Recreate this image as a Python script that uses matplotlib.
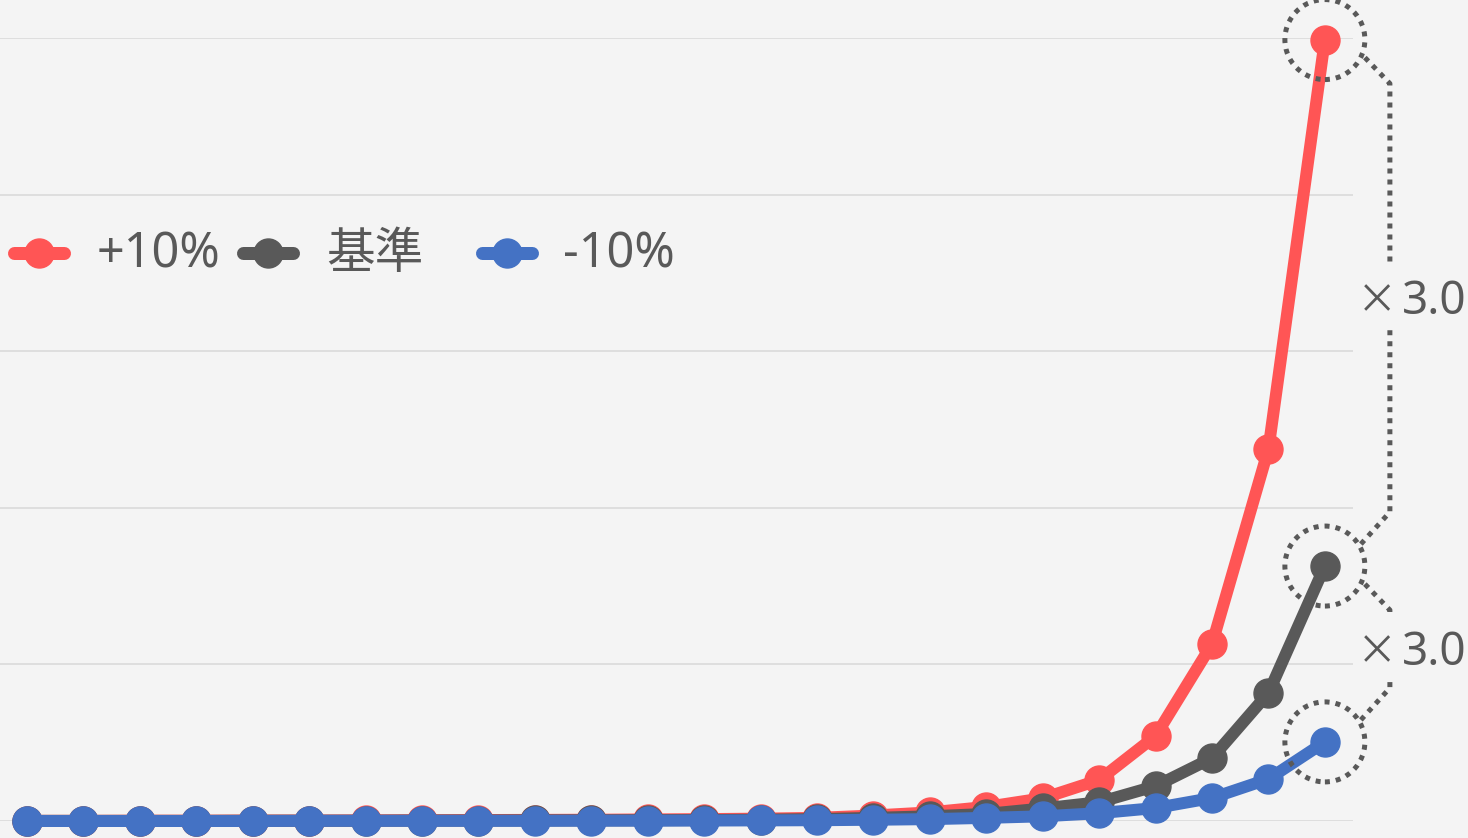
import matplotlib
matplotlib.use("Agg")
import matplotlib.pyplot as plt
from matplotlib.lines import Line2D
from matplotlib.patches import Circle
from matplotlib.transforms import IdentityTransform

# ---- data -------------------------------------------------------------
steps = list(range(24))
series_names = ["+10%", "基準", "-10%"]
plus10 = [0.001, 0.001, 0.002, 0.002, 0.003, 0.003, 0.004, 0.005, 0.006, 0.007,
          0.008, 0.010, 0.012, 0.015, 0.020, 0.035, 0.055, 0.090, 0.145, 0.262,
          0.543, 1.130, 2.375, 4.990]
base = [0.001, 0.001, 0.001, 0.001, 0.002, 0.002, 0.002, 0.003, 0.003, 0.004,
        0.004, 0.005, 0.006, 0.008, 0.012, 0.020, 0.030, 0.045, 0.080, 0.120,
        0.223, 0.402, 0.817, 1.628]
minus10 = [0.000, 0.000, 0.000, 0.000, 0.000, 0.001, 0.001, 0.001, 0.001, 0.001,
           0.002, 0.002, 0.003, 0.004, 0.005, 0.008, 0.012, 0.020, 0.030, 0.050,
           0.083, 0.147, 0.268, 0.505]
ratio_values = [3.0, 3.0]

colors = ["#ff5555", "#595959", "#4472c4"]
TEXT = "#595959"
BG = "#f4f4f4"
GRID = "#dedede"

# ---- figure -----------------------------------------------------------
W, H, DPI = 1468, 838, 100
PT = 72 / DPI  # points per pixel
plt.rcParams["font.family"] = ["Noto Sans", "Noto Sans CJK JP", "DejaVu Sans"]

fig = plt.figure(figsize=(W / DPI, H / DPI), dpi=DPI, facecolor=BG)
step_px = 56.43
ax = fig.add_axes([(27 - step_px / 2) / W, 17 / H, 24 * step_px / W, 783 / H])
ax.set_facecolor(BG)
ax.set_xlim(-0.5, 23.5)
ax.set_ylim(0, 5)
ax.set_yticks(range(6))
ax.grid(axis="y", color=GRID, lw=2 * PT)
ax.tick_params(left=False, bottom=False, labelleft=False, labelbottom=False)
for s in ax.spines.values():
    s.set_visible(False)
ax.set_axisbelow(True)

LW = 12 * PT
MS = 29 * PT
all_series = [plus10, base, minus10]
for vals, c in zip(all_series, colors):
    ax.plot(steps, vals, color=c, lw=LW, marker="o", ms=MS, mec=c, mfc=c,
            solid_capstyle="round", solid_joinstyle="round", clip_on=False)

# ---- legend (figure pixels, y measured from the top) -------------------
handle_x = [(14, 64), (243, 293), (482, 532)]
label_x = [97, 326, 563]
for (x0, x1), tx, name, c in zip(handle_x, label_x, series_names, colors):
    fig.add_artist(Line2D([x0, x1], [H - 253, H - 253], color=c, lw=13 * PT,
                          solid_capstyle="round", transform=IdentityTransform()))
    fig.add_artist(Line2D([(x0 + x1) / 2], [H - 253], color=c, marker="o",
                          ms=MS, mec=c, mfc=c, transform=IdentityTransform()))
    fig.text(tx / W, 1 - 268 / H, name, color=TEXT, fontsize=35,
             ha="left", va="baseline")

# ---- ratio brackets between the last points ---------------------------
DOT = dict(color=TEXT, lw=5 * PT, linestyle=(0, (1, 1.2)),
           dash_capstyle="butt", transform=IdentityTransform())
R = 40
ends = [ax.transData.transform((steps[-1], v[-1])) for v in all_series]
for (cx, cy) in ends:
    fig.add_artist(Circle((cx, cy), R, fill=False, ec=TEXT, lw=5 * PT,
                          linestyle=(0, (1, 1.2)), transform=IdentityTransform()))


def bracket(top, bot, value, gap=32):
    xb = top[0] + 65
    p1, p2 = (top[0] + 40, top[1] - 18), (xb, top[1] - 44)
    q1, q2 = (bot[0] + 36, bot[1] + 22), (xb, bot[1] + 54)
    mid = (p2[1] + q2[1]) / 2
    upper = [p1, p2] + ([(xb, mid + gap)] if p2[1] > mid + gap else [])
    lower = [q1, q2] + ([(xb, mid - gap)] if q2[1] < mid - gap else [])
    for pts in (upper, lower):
        xs, ys = zip(*pts)
        fig.add_artist(Line2D(xs, ys, **DOT))
    ty = (mid - 4) / H
    fig.text((top[0] + 32) / W, ty, "×", color=TEXT, fontsize=29,
             family=["Noto Sans CJK JP"], ha="left", va="center")
    fig.text((top[0] + 77) / W, ty, f"{value:.1f}", color=TEXT, fontsize=33,
             ha="left", va="center")


bracket(ends[0], ends[1], ratio_values[0])
bracket(ends[1], ends[2], ratio_values[1])

fig.savefig("out.png", dpi=DPI, facecolor=BG)
